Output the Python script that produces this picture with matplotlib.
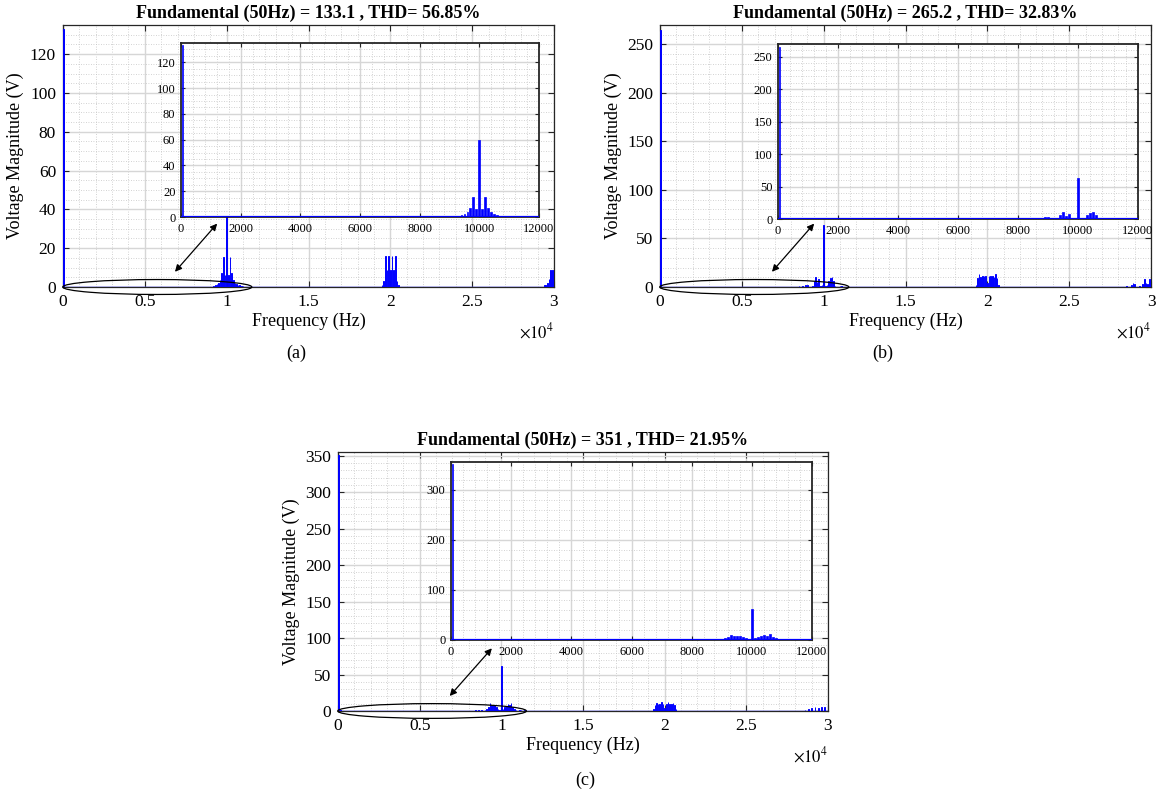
import numpy as np
import matplotlib
matplotlib.use("Agg")
import matplotlib.pyplot as plt
from matplotlib.patches import Ellipse
from matplotlib.ticker import MultipleLocator

plt.rcParams['font.family'] = ['Liberation Serif', 'DejaVu Serif']
plt.rcParams['mathtext.fontset'] = 'stix'

# ---------------- data ----------------
titles = ["Fundamental (50Hz) = 133.1 , THD= 56.85%",
          "Fundamental (50Hz) = 265.2 , THD= 32.83%",
          "Fundamental (50Hz) = 351 , THD= 21.95%"]
panel_labels = ["(a)", "(b)", "(c)"]

freq_a = [50,
          9200, 9300, 9400, 9500, 9600, 9700, 9800, 9900, 10000, 10100, 10200,
          10300, 10400, 10500, 10600, 10700, 10800, 10900, 11000,
          19500, 19600, 19700, 19800, 19900, 20000, 20100, 20200, 20300, 20400, 20500,
          29400, 29500, 29600, 29700, 29800, 29900, 30000]
mag_a = [133.1,
         0.7, 1.0, 1.5, 2.0, 3.6, 7.0, 15.5, 6.0, 60.0, 6.0, 15.5,
         7.0, 3.6, 2.0, 1.5, 1.0, 0.8, 0.6, 0.5,
         1.0, 3.0, 16.0, 9.0, 16.0, 9.0, 16.0, 9.0, 16.0, 3.0, 1.0,
         0.8, 1.2, 2.0, 4.0, 9.0, 9.0, 6.0]

freq_b = [50,
          8500, 8700, 8900, 9000, 9300, 9400, 9500, 9600, 9700, 9800, 9900, 10000,
          10100, 10200, 10300, 10400, 10500, 10600, 10700, 11000, 11100,
          19300, 19400, 19500, 19600, 19700, 19800, 19900, 20000, 20100, 20200,
          20300, 20400, 20500, 20600, 20700,
          28500, 28800, 28900, 29000, 29300, 29500, 29600, 29700, 29800, 29900, 30000]
mag_b = [265.2,
         1.0, 1.5, 2.5, 2.5, 1.5, 6.0, 10.5, 5.0, 8.0, 1.5, 2.0, 64.0,
         1.5, 2.0, 6.5, 9.0, 10.5, 6.5, 1.5, 1.5, 1.5,
         2.0, 9.0, 13.0, 10.0, 11.0, 11.0, 11.0, 4.0, 11.0, 11.0,
         11.0, 10.0, 13.0, 9.0, 2.0,
         1.0, 2.0, 4.0, 3.0, 1.0, 3.0, 8.0, 4.0, 3.0, 8.0, 4.0]

freq_c = [50, 150,
          8400, 8600, 8800, 9000, 9100, 9200, 9300, 9400, 9500, 9600, 9700, 9800,
          9900, 10000, 10100, 10200, 10300, 10400, 10500, 10600, 10700, 10800,
          10900, 11100, 11200, 11400,
          19300, 19400, 19500, 19600, 19700, 19800, 19900, 20000, 20100, 20200,
          20300, 20400, 20500, 20600, 20700,
          28600, 28800, 29000, 29200, 29400, 29600, 29800, 30000]
mag_c = [351.0, 2.0,
         2.0, 2.0, 2.0, 2.0, 3.0, 5.0, 10.5, 8.5, 8.0, 8.0, 6.0, 3.0,
         2.0, 62.0, 3.0, 6.0, 7.0, 9.0, 8.0, 11.0, 5.0, 3.0,
         2.0, 2.0, 2.0, 2.0,
         3.0, 8.0, 11.0, 9.0, 10.0, 12.0, 10.0, 4.0, 10.0, 12.0,
         10.0, 9.0, 11.0, 8.0, 3.0,
         2.0, 3.0, 4.0, 5.0, 4.0, 6.0, 5.0, 4.0]

main_xticks = [0, 5000, 10000, 15000, 20000, 25000, 30000]
main_xticklabels = ["0", "0.5", "1", "1.5", "2", "2.5", "3"]
inset_xticks = [0, 2000, 4000, 6000, 8000, 10000, 12000]

ylims = [135, 270, 355]
main_ymajor = [20, 50, 50]
main_yminor = [5, 10, 10]
inset_ymajor = [20, 50, 100]
inset_yminor = [5, 10, 20]

series = [(freq_a, mag_a), (freq_b, mag_b), (freq_c, mag_c)]

# ---------------- layout (pixels) ----------------
W, H = 1166, 807
def frac(l, t, r, b):
    return [l / W, 1 - b / H, (r - l) / W, (b - t) / H]

main_boxes = [(63, 25, 554, 287), (660, 25, 1151, 287), (338, 452, 828, 711)]
inset_boxes = [(181, 43, 539, 217), (778, 44, 1138, 219), (451, 462, 812, 640)]
label_pos = [(296, 353), (883, 353), (585, 780)]

BLUE = (0, 0, 1)
SPINE = '#262626'

fig = plt.figure(figsize=(W / 100, H / 100), dpi=100)

def style(ax, fs, xmin, ymaj, ymin, spine_lw):
    ax.xaxis.set_minor_locator(MultipleLocator(xmin))
    ax.yaxis.set_minor_locator(MultipleLocator(ymin))
    ax.yaxis.set_major_locator(MultipleLocator(ymaj))
    ax.grid(True, which='major', color='#d6d6d6', linewidth=1.0, linestyle='-')
    ax.grid(True, which='minor', color='#c4c4c4', linewidth=0.6, linestyle=(0, (1, 2)))
    ax.set_axisbelow(True)
    ax.tick_params(which='major', direction='in', top=True, right=True,
                   length=4, width=0.8, color=SPINE, labelsize=fs, pad=5)
    ax.tick_params(which='minor', length=0)
    for s in ax.spines.values():
        s.set_color(SPINE)
        s.set_linewidth(spine_lw)

for i, (fr, mg) in enumerate(series):
    # main axes
    ax = fig.add_axes(frac(*main_boxes[i]))
    ax.bar(fr, mg, width=40, color=BLUE, edgecolor=BLUE, linewidth=0.7, zorder=3)
    ax.axhline(0, color=BLUE, linewidth=1.0, zorder=3)
    ax.set_xlim(0, 30000)
    ax.set_ylim(0, ylims[i])
    style(ax, 12.5, 1000, main_ymajor[i], main_yminor[i], 0.9)
    ax.set_xticks(main_xticks)
    ax.set_xticklabels(main_xticklabels)
    ax.set_ylabel("Voltage Magnitude (V)", fontsize=13, labelpad=4)
    ax.set_xlabel("Frequency (Hz)", fontsize=13, labelpad=2)
    ax.set_title(titles[i], fontsize=13, fontweight='bold', pad=5)
    ax.text(1.0, -0.135, r'$\times10^{4}$', transform=ax.transAxes,
            ha='right', va='top', fontsize=12)

    # ellipse + arrow
    ax.add_patch(Ellipse((0.192, 0.0), 0.385, 0.057, transform=ax.transAxes,
                         fill=False, edgecolor='black', linewidth=0.9,
                         clip_on=False, zorder=6))
    ax.annotate("", xy=(0.314, 0.242), xytext=(0.228, 0.058),
                xycoords='axes fraction', textcoords='axes fraction',
                arrowprops=dict(arrowstyle='<|-|>', color='black', lw=0.9,
                                mutation_scale=10, shrinkA=0, shrinkB=0),
                zorder=6)

    # inset axes
    ai = fig.add_axes(frac(*inset_boxes[i]))
    ai.set_facecolor('white')
    ai.bar(fr, mg, width=60, color=BLUE, edgecolor=BLUE, linewidth=0.5, zorder=3)
    ai.axhline(0, color=BLUE, linewidth=1.6, zorder=3)
    ai.set_xlim(0, 12000)
    ai.set_ylim(0, ylims[i])
    style(ai, 9, 400, inset_ymajor[i], inset_yminor[i], 1.3)
    ai.set_xticks(inset_xticks)
    ai.tick_params(which='major', pad=4, length=3)

    fig.text(label_pos[i][0] / W, 1 - label_pos[i][1] / H, panel_labels[i],
             ha='center', va='center', fontsize=13)

fig.savefig("out.png", dpi=100)
